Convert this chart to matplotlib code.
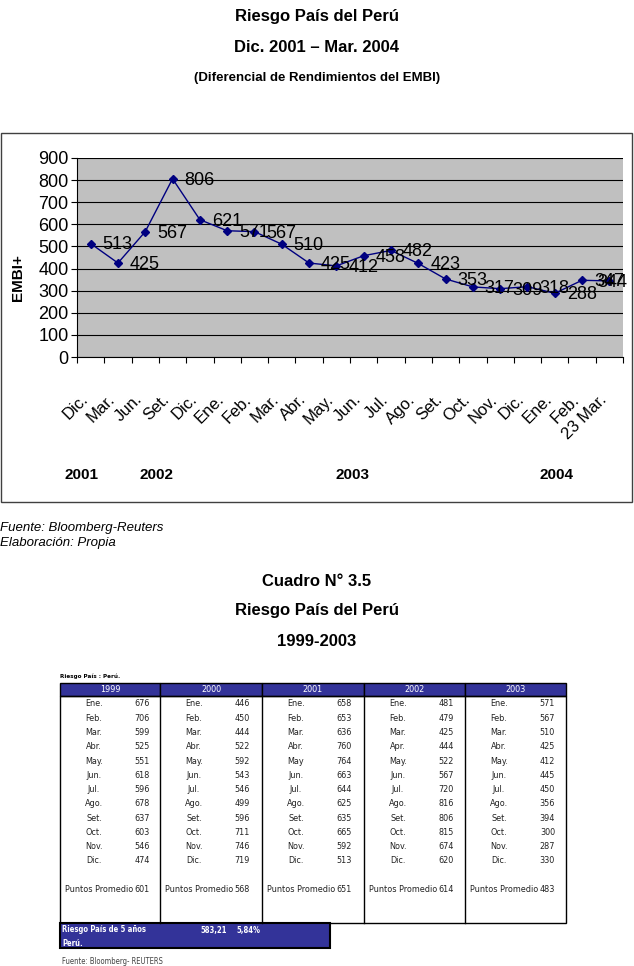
import matplotlib.pyplot as plt
from matplotlib import font_manager
from matplotlib.patches import Rectangle
from matplotlib.lines import Line2D

W, H = 634, 966
plt.rcParams['font.family'] = ['Liberation Sans', 'DejaVu Sans']

# fuente angosta para el cuadro, si existe
nombres = {f.name for f in font_manager.fontManager.ttflist}
condensadas = [f for f in font_manager.fontManager.ttflist
               if f.name == 'DejaVu Sans' and str(f.stretch) in ('condensed', '300')]
if 'Liberation Sans Narrow' in nombres:
    TAB = dict(family='Liberation Sans Narrow')
    TS = 7
elif condensadas:
    TAB = dict(family='DejaVu Sans', stretch='condensed')
    TS = 6.5
else:
    TAB = dict(family='Liberation Sans')
    TS = 5.8

# datos del grafico
meses = ['Dic.', 'Mar.', 'Jun.', 'Set.', 'Dic.', 'Ene.', 'Feb.', 'Mar.', 'Abr.', 'May.',
         'Jun.', 'Jul.', 'Ago.', 'Set.', 'Oct.', 'Nov.', 'Dic.', 'Ene.', 'Feb.', '23 Mar.']
embi = [513, 425, 567, 806, 621, 571, 567, 510, 425, 412,
        458, 482, 423, 353, 317, 309, 318, 288, 347, 344]
anios = ['2001', '2002', '2003', '2004']
anio_x = [-0.35, 2.4, 9.6, 17.05]

# datos del cuadro
cols = ['1999', '2000', '2001', '2002', '2003']
meses_tab = {
    '1999': ['Ene.', 'Feb.', 'Mar.', 'Abr.', 'May.', 'Jun.', 'Jul.', 'Ago.', 'Set.', 'Oct.', 'Nov.', 'Dic.'],
    '2000': ['Ene.', 'Feb.', 'Mar.', 'Abr.', 'May.', 'Jun.', 'Jul.', 'Ago.', 'Set.', 'Oct.', 'Nov.', 'Dic.'],
    '2001': ['Ene.', 'Feb.', 'Mar.', 'Abr.', 'May', 'Jun.', 'Jul.', 'Ago.', 'Set.', 'Oct.', 'Nov.', 'Dic.'],
    '2002': ['Ene.', 'Feb.', 'Mar.', 'Apr.', 'May.', 'Jun.', 'Jul.', 'Ago.', 'Set.', 'Oct.', 'Nov.', 'Dic.'],
    '2003': ['Ene.', 'Feb.', 'Mar.', 'Abr.', 'May.', 'Jun.', 'Jul.', 'Ago.', 'Set.', 'Oct.', 'Nov.', 'Dic.'],
}
v1999 = [676, 706, 599, 525, 551, 618, 596, 678, 637, 603, 546, 474]
v2000 = [446, 450, 444, 522, 592, 543, 546, 499, 596, 711, 746, 719]
v2001 = [658, 653, 636, 760, 764, 663, 644, 625, 635, 665, 592, 513]
v2002 = [481, 479, 425, 444, 522, 567, 720, 816, 806, 815, 674, 620]
v2003 = [571, 567, 510, 425, 412, 445, 450, 356, 394, 300, 287, 330]
valores = [v1999, v2000, v2001, v2002, v2003]
promedios = [601, 568, 651, 614, 483]
riesgo_5a = '583,21'
riesgo_pct = '5,84%'

AZUL = '#333399'

fig = plt.figure(figsize=(W / 100, H / 100), dpi=100)


def ftext(x, y, s, **kw):
    fig.text(x / W, 1 - y / H, s, **kw)


def frect(x0, y0, x1, y1, **kw):
    fig.add_artist(Rectangle((x0 / W, 1 - y1 / H), (x1 - x0) / W, (y1 - y0) / H,
                             transform=fig.transFigure, **kw))


def fline(x0, y0, x1, y1, **kw):
    fig.add_artist(Line2D([x0 / W, x1 / W], [1 - y0 / H, 1 - y1 / H],
                          transform=fig.transFigure, **kw))


# titulos
ftext(317, 17, 'Riesgo País del Perú', ha='center', va='center', fontsize=12, fontweight='bold')
ftext(317, 48, 'Dic. 2001 – Mar. 2004', ha='center', va='center', fontsize=12, fontweight='bold')
ftext(317, 78, '(Diferencial de Rendimientos del EMBI)', ha='center', va='center',
      fontsize=9.5, fontweight='bold')

# marco del grafico
frect(1, 133, 632, 502, fill=False, ec='#404040', lw=1)

ax = fig.add_axes([77 / W, 1 - 357 / H, 546 / W, 199 / H])
ax.set_facecolor('#C0C0C0')
x = list(range(len(embi)))
ax.plot(x, embi, color='#000080', lw=1, marker='D', ms=4.5, zorder=3)
for i, v in enumerate(embi):
    dx = 8.6 if i < len(embi) - 1 else -8.6
    ax.annotate(str(v), (i, v), xytext=(dx, -1), textcoords='offset points',
                ha='left', va='center', fontsize=13, zorder=4)

ax.set_ylim(0, 900)
ax.set_yticks(range(0, 901, 100))
ax.yaxis.grid(True, color='black', lw=0.8)
ax.set_axisbelow(True)
ax.set_xlim(-0.5, len(embi) - 0.5)
ax.set_xticks([i - 0.5 for i in range(len(embi) + 1)])
ax.set_xticklabels([])
ax.set_xticks(x, minor=True)
ax.set_xticklabels(meses, minor=True, rotation=45, ha='right', va='top')
ax.tick_params(axis='x', which='major', length=4, direction='out')
ax.tick_params(axis='x', which='minor', length=0, pad=25, labelsize=12)
ax.tick_params(axis='y', length=4, labelsize=13, pad=2)
for s in ['top', 'right']:
    ax.spines[s].set_visible(False)

ftext(18, 278, 'EMBI+', rotation=90, ha='center', va='center', fontsize=11, fontweight='bold')
for a, xa in zip(anios, anio_x):
    px = ax.transData.transform((xa, 0))[0]
    fig.text(px / W, 1 - 475 / H, a, fontsize=11, fontweight='bold', ha='center', va='center')

ftext(0, 528, 'Fuente: Bloomberg-Reuters', ha='left', va='center', fontsize=9.5, style='italic')
ftext(0, 543, 'Elaboración: Propia', ha='left', va='center', fontsize=9.5, style='italic')

# cuadro
ftext(317, 582, 'Cuadro N° 3.5', ha='center', va='center', fontsize=12, fontweight='bold')
ftext(317, 611, 'Riesgo País del Perú', ha='center', va='center', fontsize=12, fontweight='bold')
ftext(317, 641, '1999-2003', ha='center', va='center', fontsize=12, fontweight='bold')

ftext(60, 676, 'Riesgo País : Perú.', ha='left', va='center', fontsize=TS - 2, fontweight='bold',
      **TAB)

col_x = [60, 160, 262, 364, 465, 566]
top, head_bot, body_bot = 683, 696, 923
for j, c in enumerate(cols):
    x0, x1 = col_x[j], col_x[j + 1]
    frect(x0, top, x1, head_bot, fc=AZUL, ec='black', lw=1)
    ftext((x0 + x1) / 2, (top + head_bot) / 2, c, ha='center', va='center', fontsize=TS,
          color='white', **TAB)
    for i, (m, v) in enumerate(zip(meses_tab[c], valores[j])):
        y = 704 + i * 14.27
        ftext(x0 + 34, y, m, ha='center', va='center', fontsize=TS, color='#222222', **TAB)
        ftext(x0 + 90, y, str(v), ha='right', va='center', fontsize=TS, color='#222222', **TAB)
    ftext(x0 + 5, 889, 'Puntos Promedio', ha='left', va='center', fontsize=TS, color='#222222',
          **TAB)
    ftext(x0 + 90, 889, str(promedios[j]), ha='right', va='center', fontsize=TS, color='#222222',
          **TAB)
    if j > 0:
        fline(x0, head_bot, x0, body_bot, color='black', lw=1)
frect(60, head_bot, 566, body_bot, fill=False, ec='black', lw=1)

frect(60, 923, 330, 948, fc=AZUL, ec='black', lw=1.5)
ftext(62, 930, 'Riesgo País de 5 años', ha='left', va='center', fontsize=TS - 1, color='white',
      fontweight='bold', **TAB)
ftext(62, 943, 'Perú.', ha='left', va='center', fontsize=TS - 1, color='white',
      fontweight='bold', **TAB)
ftext(227, 930, riesgo_5a, ha='right', va='center', fontsize=TS - 1, color='white',
      fontweight='bold', **TAB)
ftext(260, 930, riesgo_pct, ha='right', va='center', fontsize=TS - 1, color='white',
      fontweight='bold', **TAB)
ftext(62, 957, 'Fuente: Bloomberg- REUTERS', ha='left', va='top', fontsize=TS - 1, color='#444444',
      **TAB)

fig.savefig('out.png', dpi=100)
